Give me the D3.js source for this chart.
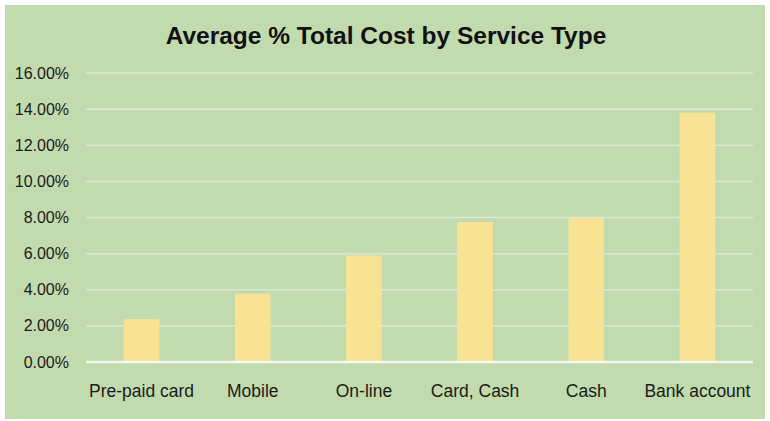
<!DOCTYPE html>
<html>
<head>
<meta charset="utf-8">
<script src="https://cdn.jsdelivr.net/npm/d3@7"></script>
<style>
  html, body { margin: 0; padding: 0; background: #ffffff; }
  svg { display: block; }
  text { font-family: "Liberation Sans", Arial, Helvetica, sans-serif; }
</style>
</head>
<body>
<svg id="chart" width="770" height="421"></svg>
<script>
const categories = ["Pre-paid card", "Mobile", "On-line", "Card, Cash", "Cash", "Bank account"];
const values = [0.0237, 0.0378, 0.0590, 0.0775, 0.0797, 0.1380];
const yTicks = [0, 0.02, 0.04, 0.06, 0.08, 0.10, 0.12, 0.14, 0.16];
const titleText = "Average % Total Cost by Service Type";

const W = 770, H = 421;
const margin = { left: 86, right: 17, top: 73, bottom: 59 };
const svg = d3.select("#chart");

// panel background
svg.append("rect")
  .attr("x", 5).attr("y", 5)
  .attr("width", W - 10).attr("height", H - 7)
  .attr("fill", "#c2dbae");

const x = d3.scaleBand()
  .domain(categories)
  .range([margin.left, W - margin.right])
  .paddingInner(0.68)
  .paddingOuter(0.34);

const y = d3.scaleLinear()
  .domain([0, 0.16])
  .range([H - margin.bottom, margin.top]);

// gridlines
svg.append("g")
  .selectAll("line")
  .data(yTicks.filter(d => d > 0))
  .join("line")
  .attr("x1", margin.left).attr("x2", W - margin.right)
  .attr("y1", d => y(d)).attr("y2", d => y(d))
  .attr("stroke", "#dbe8d2")
  .attr("stroke-width", 1.5);

// bars
svg.append("g")
  .selectAll("rect")
  .data(categories.map((c, i) => ({ c, v: values[i] })))
  .join("rect")
  .attr("x", d => x(d.c))
  .attr("width", x.bandwidth())
  .attr("y", d => y(d.v))
  .attr("height", d => y(0) - y(d.v))
  .attr("fill", "#f8e394");

// baseline
svg.append("line")
  .attr("x1", margin.left).attr("x2", W - margin.right)
  .attr("y1", y(0)).attr("y2", y(0))
  .attr("stroke", "#f4f7ef")
  .attr("stroke-width", 2.5);

// y axis labels
const fmt = d3.format(".2%");
svg.append("g")
  .selectAll("text")
  .data(yTicks)
  .join("text")
  .attr("x", 69)
  .attr("y", d => y(d))
  .attr("dy", "0.35em")
  .attr("text-anchor", "end")
  .attr("font-size", 16)
  .attr("fill", "#1a1a1a")
  .text(d => fmt(d));

// x axis labels
const xAxis = d3.axisBottom(x).tickSize(0).tickPadding(0);
const gx = svg.append("g")
  .attr("transform", `translate(0, ${y(0)})`)
  .call(xAxis);
gx.select(".domain").remove();
gx.selectAll("text")
  .attr("font-size", 17.5)
  .attr("font-family", "\"Liberation Sans\", Arial, sans-serif")
  .attr("fill", "#1a1a1a")
  .attr("dy", null)
  .attr("y", 35);

// title
svg.append("text")
  .attr("x", 386)
  .attr("y", 44)
  .attr("text-anchor", "middle")
  .attr("font-size", 24.5)
  .attr("font-weight", "bold")
  .attr("fill", "#111111")
  .text(titleText);
</script>
</body>
</html>
